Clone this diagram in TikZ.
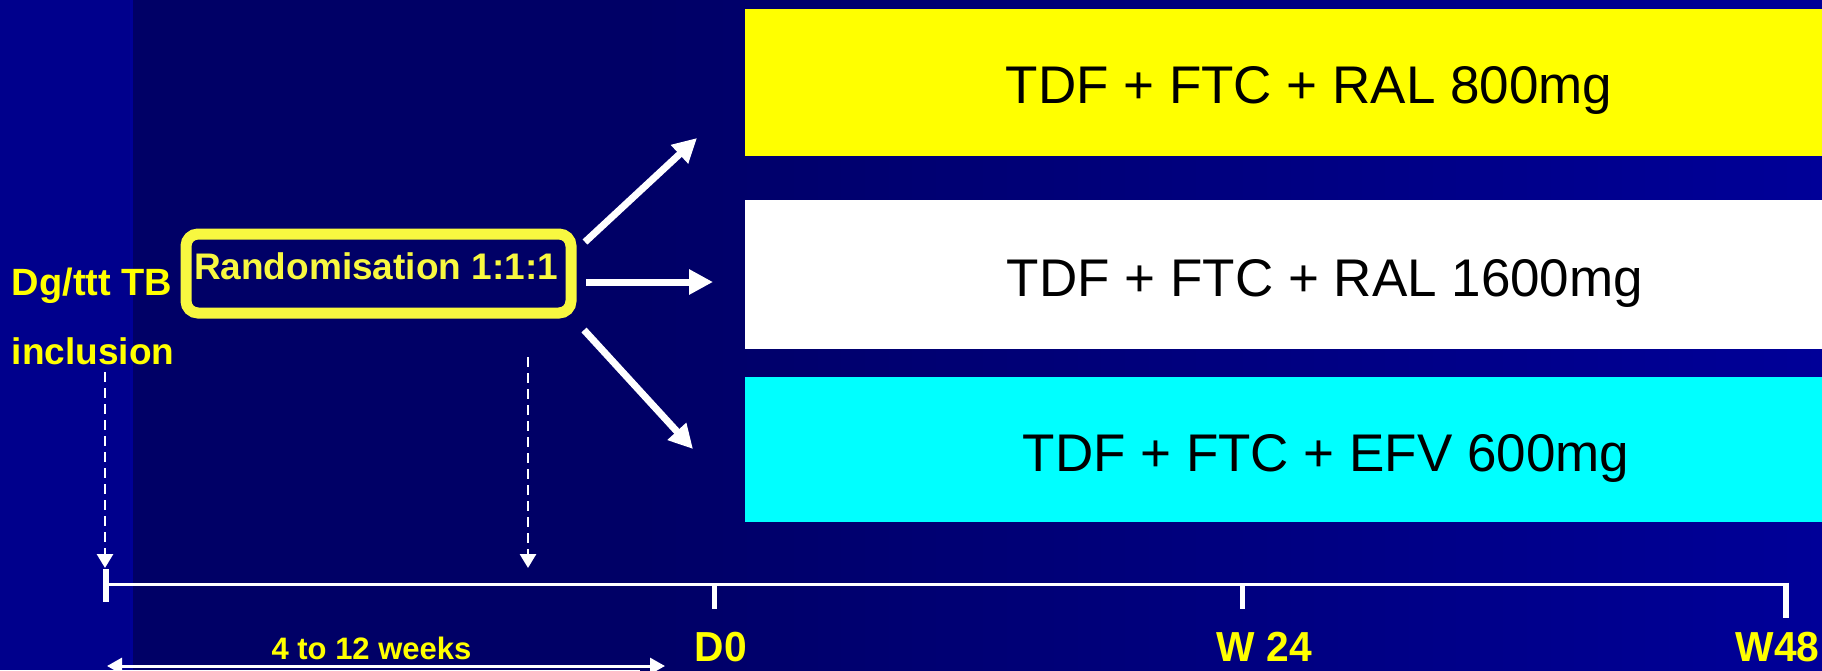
\documentclass[tikz,border=0pt]{standalone}
\usepackage{fontspec}
\usepackage{graphicx}
\setmainfont{Liberation Sans}
\usetikzlibrary{arrows.meta}
\definecolor{bgleft}{RGB}{0,0,140}
\definecolor{bgline}{RGB}{0,0,150}
\definecolor{bgdark}{RGB}{0,0,102}
\definecolor{bgright}{RGB}{0,0,152}
\definecolor{ryellow}{RGB}{248,248,64}
\definecolor{lyellow}{RGB}{255,255,0}
\definecolor{armcyan}{RGB}{0,255,255}
\begin{document}
\begin{tikzpicture}[x=1pt,y=-1pt,
  armbox/.style={draw=none, inner sep=0pt, anchor=north west, minimum width=1130pt, minimum height=#1},
  armtext/.style={font=\fontsize{53}{60}\selectfont, text=black, anchor=base, inner sep=0pt},
  lbl/.style={font=\bfseries\fontsize{37}{40}\selectfont, text=lyellow, anchor=base, inner sep=0pt},
  timelbl/.style={font=\bfseries\fontsize{42}{46}\selectfont, text=lyellow, anchor=base, inner sep=0pt},
  randbox/.style={draw=ryellow, line width=11pt, rounded corners=12pt, inner sep=0pt, minimum width=385pt, minimum height=79pt},
  bigarrow/.style={draw=white, line width=7pt, -{Triangle[length=24pt,width=24pt]}},
  dasharrow/.style={draw=white, line width=2.8pt, dash pattern=on 10pt off 6pt, -{Triangle[length=14pt,width=16pt]}},
  spanarrow/.style={draw=white, line width=3pt, {Triangle[length=15pt,width=16pt]}-{Triangle[length=15pt,width=16pt]}},
  tick/.style={draw=white, line width=#1}
]
\useasboundingbox (0,0) rectangle (1822,670);
% background
\fill[bgleft] (0,0) rectangle (130,670);
\fill[bgline] (130,0) rectangle (133,670);
\fill[bgdark] (133,0) rectangle (640,670);
\shade[left color=bgdark, right color=bgright] (640,0) rectangle (1822,670);

% arms
\node[armbox=147pt, fill=lyellow] (arm1) at (745,9) {};
\node[armbox=149pt, fill=white] (arm2) at (745,200) {};
\node[armbox=145pt, fill=armcyan] (arm3) at (745,377) {};
\node[armtext] (t1) at (1309,103.5) {TDF + FTC + RAL 800mg};
\node[armtext] (t2) at (1325,296) {TDF + FTC + RAL 1600mg};
\node[armtext] (t3) at (1326,471.5) {TDF + FTC + EFV 600mg};

% randomisation
\node[randbox] (rand) at (378.5,273.5) {};
\node[lbl, text=ryellow] (randtxt) at (376,279) {Randomisation 1:1:1};

% left labels
\node[lbl, font=\bfseries\fontsize{38}{40}\selectfont] (dg) at (92,295) {Dg/ttt TB};
\node[lbl] (incl) at (93,364) {inclusion};

% big arrows
\coordinate (a1s) at (585,242); \coordinate (a1e) at (697,138);
\coordinate (a2s) at (586,282); \coordinate (a2e) at (713,282);
\coordinate (a3s) at (584,330); \coordinate (a3e) at (693,449);
\draw[bigarrow] (a1s) -- (a1e);
\draw[bigarrow] (a2s) -- (a2e);
\draw[bigarrow] (a3s) -- (a3e);

% timeline
\coordinate (tl0) at (106,584);
\coordinate (tlD0) at (714,584);
\coordinate (tlW24) at (1242,584);
\coordinate (tlW48) at (1786,584);
\draw[white, line width=3pt] (tl0) -- (tlW48);
\draw[tick=6pt] (106,569) -- (106,602);
\draw[tick=5pt] (tlD0) -- (714,609);
\draw[tick=5pt] (tlW24) -- (1242,609);
\draw[tick=6pt] (1786,582.5) -- (1786,618);

% dashed arrows
\coordinate (d1s) at (105,372); \coordinate (d1e) at (105,568);
\coordinate (d2s) at (528,357); \coordinate (d2e) at (528,568);
\draw[dasharrow] (d1s) -- (d1e);
\draw[dasharrow] (d2s) -- (d2e);

% time labels
\node[timelbl] (lD0) at (721,661) {\scalebox{0.97}[1]{D0}};
\node[timelbl] (lW24) at (1264.5,661) {\scalebox{0.97}[1]{W 24}};
\node[timelbl] (lW48) at (1777.5,661) {\scalebox{0.97}[1]{W48}};

% span
\node[lbl, font=\bfseries\fontsize{31}{34}\selectfont] (span) at (371.5,659) {4 to 12 weeks};
\coordinate (s0) at (107,666); \coordinate (s1) at (665,666);
\draw[spanarrow] (s0) -- (s1);
\end{tikzpicture}
\end{document}
